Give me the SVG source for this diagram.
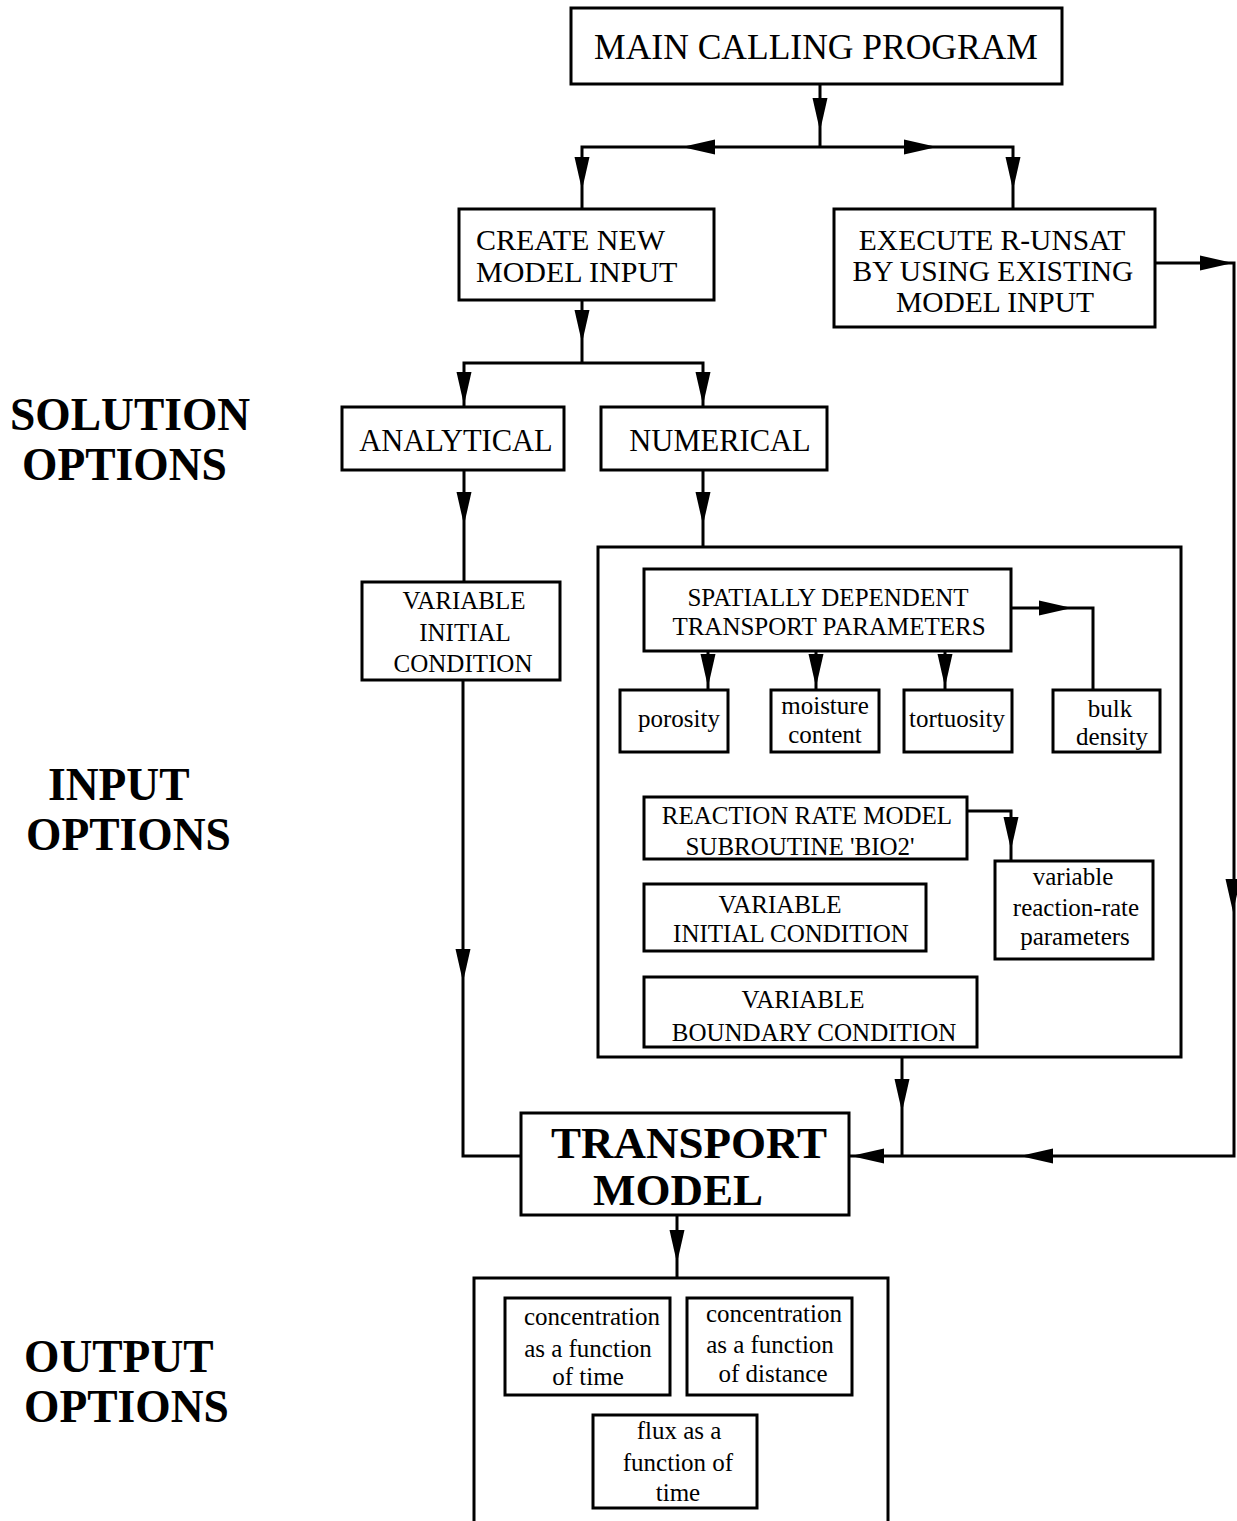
<svg xmlns="http://www.w3.org/2000/svg" xmlns:xlink="http://www.w3.org/1999/xlink" width="1237" height="1521" viewBox="0 0 1237 1521">
<style>
.box{fill:none;stroke:#000;stroke-width:3}
.ln{fill:none;stroke:#000;stroke-width:3}
text{font-family:"Liberation Serif","Times New Roman",serif;fill:#000}
.t30{font-size:30.5px;text-anchor:middle}
.t29{font-size:29.5px;text-anchor:middle}
.t25{font-size:25px;text-anchor:middle}
.lab{font-size:45.5px;font-weight:bold}
</style>
<defs>
<path id="ah" d="M0,0 L-7.5,-33 L7.5,-33 Z" fill="#000"/>
</defs>
<rect width="1237" height="1521" fill="#fff"/>

<g id="labels">
<text class="lab" x="10" y="430">SOLUTION</text>
<text class="lab" x="22" y="480">OPTIONS</text>
<text class="lab" x="48" y="800">INPUT</text>
<text class="lab" x="26" y="850">OPTIONS</text>
<text class="lab" x="24" y="1372">OUTPUT</text>
<text class="lab" x="24" y="1422">OPTIONS</text>
</g>

<g id="connectors">
<path class="ln" d="M820,84 V147 M582,208 V147 H1013 V209"/>
<path class="ln" d="M582,300 V363 M464,407 V363 H703 V407"/>
<path class="ln" d="M464,470 V582 M703,470 V547"/>
<path class="ln" d="M463,680 V1156 H521"/>
<path class="ln" d="M1011,608 H1093 V690"/>
<path class="ln" d="M708,651 V690 M816,651 V690 M945,651 V690"/>
<path class="ln" d="M967,811 H1011 V861"/>
<path class="ln" d="M1155,263 H1234 V1156 H849"/>
<path class="ln" d="M902,1057 V1156"/>
<path class="ln" d="M677,1215 V1278"/>
<use xlink:href="#ah" transform="translate(820,131)"/>
<use xlink:href="#ah" transform="translate(682,147) rotate(90)"/>
<use xlink:href="#ah" transform="translate(937,147) rotate(-90)"/>
<use xlink:href="#ah" transform="translate(582,190)"/>
<use xlink:href="#ah" transform="translate(1013,190)"/>
<use xlink:href="#ah" transform="translate(582,343)"/>
<use xlink:href="#ah" transform="translate(464,405)"/>
<use xlink:href="#ah" transform="translate(703,405)"/>
<use xlink:href="#ah" transform="translate(464,525)"/>
<use xlink:href="#ah" transform="translate(703,525)"/>
<use xlink:href="#ah" transform="translate(463,982)"/>
<use xlink:href="#ah" transform="translate(1072,608) rotate(-90)"/>
<use xlink:href="#ah" transform="translate(708,687)"/>
<use xlink:href="#ah" transform="translate(816,687)"/>
<use xlink:href="#ah" transform="translate(945,687)"/>
<use xlink:href="#ah" transform="translate(1011,850)"/>
<use xlink:href="#ah" transform="translate(1233,263) rotate(-90)"/>
<use xlink:href="#ah" transform="translate(1233,912)"/>
<use xlink:href="#ah" transform="translate(1020,1156) rotate(90)"/>
<use xlink:href="#ah" transform="translate(902,1112)"/>
<use xlink:href="#ah" transform="translate(851,1156) rotate(90)"/>
<use xlink:href="#ah" transform="translate(677,1263)"/>
</g>

<g id="main">
<rect class="box" x="571" y="8" width="491" height="76"/>
<text class="t30" style="font-size:35.5px" x="816" y="59">MAIN CALLING PROGRAM</text>
</g>
<g id="create">
<rect class="box" x="459" y="209" width="255" height="91"/>
<text style="font-size:30px" x="476" y="250">CREATE NEW</text>
<text style="font-size:30px" x="476" y="282">MODEL INPUT</text>
</g>
<g id="execute">
<rect class="box" x="834" y="209" width="321" height="118"/>
<text class="t29" x="992" y="250">EXECUTE R-UNSAT</text>
<text class="t29" x="993" y="281">BY USING EXISTING</text>
<text class="t29" x="995" y="312">MODEL INPUT</text>
</g>
<g id="analytical">
<rect class="box" x="342" y="407" width="222" height="63"/>
<text class="t30" x="456" y="451">ANALYTICAL</text>
</g>
<g id="numerical">
<rect class="box" x="601" y="407" width="226" height="63"/>
<text class="t30" x="720" y="451">NUMERICAL</text>
</g>
<g id="var-init-analytical">
<rect class="box" x="362" y="582" width="198" height="98"/>
<text class="t25" x="464" y="609">VARIABLE</text>
<text class="t25" x="465" y="641">INITIAL</text>
<text class="t25" x="463" y="672">CONDITION</text>
</g>
<g id="numerical-options">
<rect class="box" x="598" y="547" width="583" height="510"/>
</g>
<g id="spatial">
<rect class="box" x="644" y="569" width="367" height="82"/>
<text class="t25" x="828" y="606">SPATIALLY DEPENDENT</text>
<text class="t25" x="829" y="635">TRANSPORT PARAMETERS</text>
</g>
<g id="porosity">
<rect class="box" x="620" y="690" width="108" height="62"/>
<text class="t25" x="679" y="727">porosity</text>
</g>
<g id="moisture">
<rect class="box" x="771" y="690" width="108" height="62"/>
<text class="t25" x="825" y="714">moisture</text>
<text class="t25" x="825" y="743">content</text>
</g>
<g id="tortuosity">
<rect class="box" x="904" y="690" width="108" height="62"/>
<text class="t25" x="957" y="727">tortuosity</text>
</g>
<g id="bulk">
<rect class="box" x="1053" y="690" width="107" height="62"/>
<text class="t25" x="1110" y="717">bulk</text>
<text class="t25" x="1112" y="745">density</text>
</g>
<g id="reaction">
<rect class="box" x="644" y="797" width="323" height="62"/>
<text class="t25" x="807" y="824">REACTION RATE MODEL</text>
<text class="t25" x="800" y="855">SUBROUTINE 'BIO2'</text>
</g>
<g id="var-rate">
<rect class="box" x="995" y="861" width="158" height="98"/>
<text class="t25" x="1073" y="885">variable</text>
<text class="t25" x="1076" y="916">reaction-rate</text>
<text class="t25" x="1075" y="945">parameters</text>
</g>
<g id="var-init-numerical">
<rect class="box" x="644" y="884" width="282" height="67"/>
<text class="t25" x="780" y="913">VARIABLE</text>
<text class="t25" x="791" y="942">INITIAL CONDITION</text>
</g>
<g id="var-boundary">
<rect class="box" x="644" y="977" width="333" height="70"/>
<text class="t25" x="803" y="1008">VARIABLE</text>
<text class="t25" x="814" y="1041">BOUNDARY CONDITION</text>
</g>
<g id="transport">
<rect class="box" x="521" y="1113" width="328" height="102"/>
<text style="font-size:45px;font-weight:bold;text-anchor:middle" x="689" y="1158">TRANSPORT</text>
<text style="font-size:45px;font-weight:bold;text-anchor:middle" x="678" y="1205">MODEL</text>
</g>
<g id="output-options">
<rect class="box" x="474" y="1278" width="414" height="262"/>
</g>
<g id="conc-time">
<rect class="box" x="505" y="1298" width="165" height="97"/>
<text class="t25" x="592" y="1325">concentration</text>
<text class="t25" x="588" y="1357">as a function</text>
<text class="t25" x="588" y="1385">of time</text>
</g>
<g id="conc-distance">
<rect class="box" x="687" y="1298" width="165" height="97"/>
<text class="t25" x="774" y="1322">concentration</text>
<text class="t25" x="770" y="1353">as a function</text>
<text class="t25" x="773" y="1382">of distance</text>
</g>
<g id="flux-time">
<rect class="box" x="593" y="1415" width="164" height="93"/>
<text class="t25" x="679" y="1439">flux as a</text>
<text class="t25" x="678" y="1471">function of</text>
<text class="t25" x="678" y="1501">time</text>
</g>
</svg>
